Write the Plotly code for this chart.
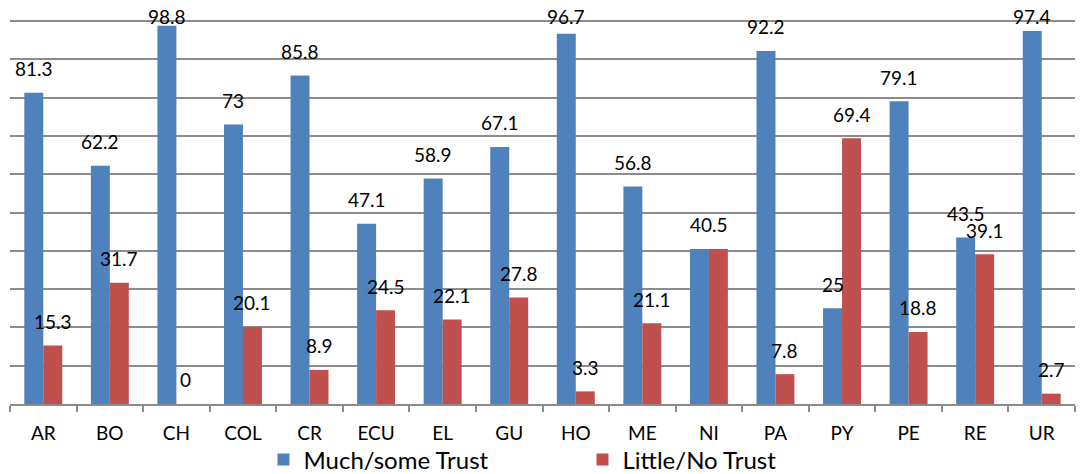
import plotly.graph_objects as go

countries = ["AR", "BO", "CH", "COL", "CR", "ECU", "EL", "GU",
             "HO", "ME", "NI", "PA", "PY", "PE", "RE", "UR"]
much_some = [81.3, 62.2, 98.8, 73, 85.8, 47.1, 58.9, 67.1,
             96.7, 56.8, 40.5, 92.2, 25, 79.1, 43.5, 97.4]
little_no = [15.3, 31.7, 0, 20.1, 8.9, 24.5, 22.1, 27.8,
             3.3, 21.1, 40.5, 7.8, 69.4, 18.8, 39.1, 2.7]

BLUE = "#4F81BD"
RED = "#C0504D"
GRID = "#8C8C8C"
FONT = "Lato"

fig = go.Figure()
fig.add_trace(go.Bar(name="Much/some Trust", x=countries, y=much_some,
                     marker=dict(color=BLUE, line=dict(width=0))))
fig.add_trace(go.Bar(name="Little/No Trust", x=countries, y=little_no,
                     marker=dict(color=RED, line=dict(width=0))))

# value labels floating above each bar, kept inside the top of the chart
LIFT = 6.3      # distance above bar top, in axis units
CAP = 101.1     # highest label position
HALF = 9.5      # half a bar width, in px

annotations = []
for c, b, r in zip(countries, much_some, little_no):
    if b == r:
        annotations.append(dict(x=c, y=min(b + LIFT, CAP), text=f"{b:g}", xshift=0))
        continue
    annotations.append(dict(x=c, y=min(b + LIFT, CAP), text=f"{b:g}", xshift=-HALF))
    annotations.append(dict(x=c, y=min(r + LIFT, CAP), text=f"{r:g}", xshift=HALF))
for a in annotations:
    a.update(xref="x", yref="y", showarrow=False, yanchor="middle",
             font=dict(family=FONT, size=19, color="black"))

fig.update_layout(
    width=1086, height=474,
    margin=dict(l=10, r=11, t=2, b=70, autoexpand=False),
    paper_bgcolor="white", plot_bgcolor="white",
    barmode="group", bargap=0.43, bargroupgap=0,
    font=dict(family=FONT, size=19, color="black"),
    annotations=annotations,
    showlegend=True,
    legend=dict(orientation="h", x=0.238, xanchor="left", y=-0.139, yanchor="middle",
                font=dict(family=FONT, size=24, color="black"),
                entrywidth=274, entrywidthmode="pixels",
                bgcolor="rgba(0,0,0,0)"),
)
fig.update_xaxes(showline=True, linecolor=GRID, linewidth=1.5,
                 ticks="outside", tickson="boundaries", ticklen=6,
                 tickcolor=GRID, tickwidth=1.5, ticklabelstandoff=11,
                 tickfont=dict(family=FONT, size=19, color="black"),
                 showgrid=False)
fig.update_yaxes(range=[0, 105], dtick=10, showgrid=True, gridcolor=GRID,
                 gridwidth=1.5, showticklabels=False, zeroline=False,
                 showline=False, ticks="")

fig.write_html("out.html")
